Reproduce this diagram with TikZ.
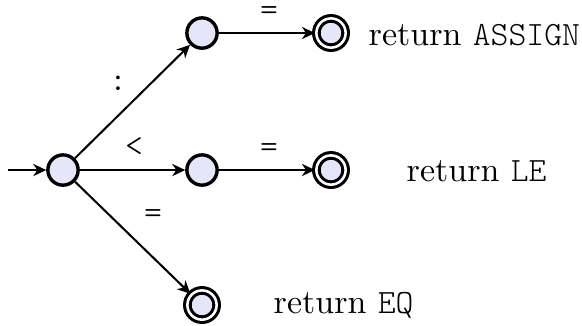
\documentclass[tikz,border=0pt]{standalone}
\usepackage{fontspec}
\setmonofont{Latin Modern Mono Light}
\usetikzlibrary{arrows.meta}
\definecolor{statefill}{RGB}{230,230,250}
\begin{document}
\begin{tikzpicture}[x=0.294pt,y=-0.294pt,
  state/.style={circle,draw,line width=1pt,fill=statefill,minimum size=8.9pt,inner sep=0pt},
  accept/.style={state,line width=0.9pt,double,double distance=0.75pt,minimum size=8.6pt},
  edge/.style={line width=0.6pt,-{Stealth[length=3.8pt,width=3.6pt,inset=1.2pt]}},
  lbl/.style={font=\ttfamily,inner sep=0pt,text height=5pt,text depth=0.5pt}]
\useasboundingbox (0,0) rectangle (582,325);
\node[state] (s0) at (63,170) {};
\node[state] (s1) at (202,33) {};
\node[state] (s2) at (202,170) {};
\node[accept] (a1) at (331,33) {};
\node[accept] (a2) at (331,170) {};
\node[accept] (a3) at (202,305) {};
\coordinate (start) at (8,170);
\draw[edge] (start) -- (s0);
\draw[edge] (s0) -- (s1);
\draw[edge] (s0) -- (s2);
\draw[edge] (s0) -- (a3);
\draw[edge] (s1) -- (a1);
\draw[edge] (s2) -- (a2);
\node[lbl] (l1) at (118,83) {:};
\node[lbl] (l2) at (134,149) {<};
\node[lbl] (l3) at (153,216) {=};
\node[lbl] (l4) at (269,13) {=};
\node[lbl] (l5) at (269,150) {=};
\node[anchor=west,inner sep=0pt] (t1) at (368,35) {return \texttt{ASSIGN}};
\node[anchor=west,inner sep=0pt] (t2) at (406,171) {return \texttt{LE}};
\node[anchor=west,inner sep=0pt] (t3) at (273,305) {return \texttt{EQ}};
\end{tikzpicture}
\end{document}
